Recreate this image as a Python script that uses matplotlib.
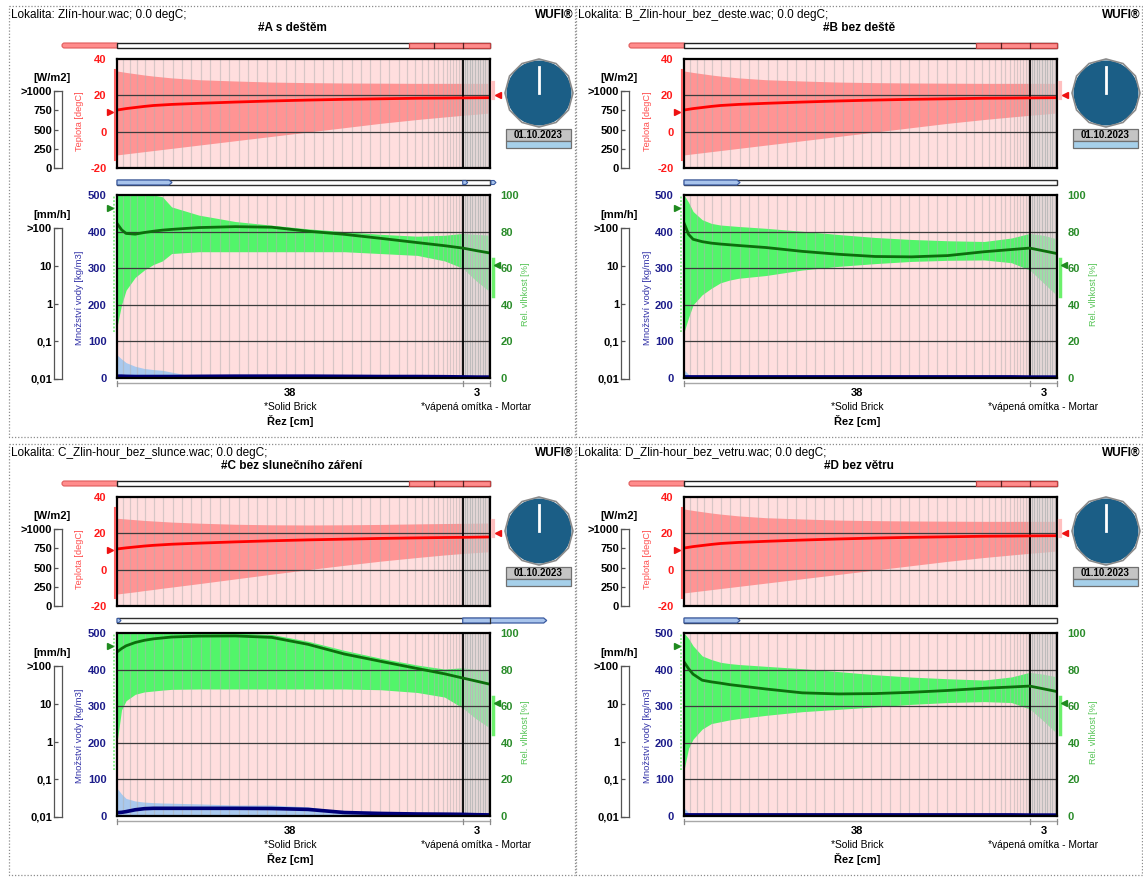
import numpy as np
import matplotlib
matplotlib.use("Agg")
import matplotlib.pyplot as plt
import matplotlib.transforms as mtransforms
from matplotlib.patches import Rectangle, Polygon, Circle, FancyBboxPatch, RegularPolygon
from matplotlib.ticker import NullLocator

plt.rcParams["font.family"] = ["Liberation Sans", "DejaVu Sans"]

# ---------------------------------------------------------------- data
# positions across the wall section [cm]
X_CM = [0, 0.5, 1, 2, 3, 4, 5, 6, 9, 13, 17, 21, 25, 29, 33, 36, 38, 39.5, 41]

LAYER_NAMES = ["*Solid Brick", "*vápená omítka - Mortar"]
LAYER_CM = [38, 3]

CLIMATE_FILES = ["Zlín-hour.wac", "B_Zlin-hour_bez_deste.wac",
                 "C_Zlin-hour_bez_slunce.wac", "D_Zlin-hour_bez_vetru.wac"]
CASE_TITLES = ["#A s deštěm", "#B bez deště", "#C bez slunečního záření", "#D bez větru"]
OUTDOOR_TEMP = "0.0 degC"
DATE_LABEL = "01.10.2023"

# temperature [degC]: current profile and min/max envelope
A_T_NOW = [11.9, 12.3, 12.7, 13.3, 13.9, 14.4, 14.7, 15.0, 15.6, 16.3, 16.9, 17.4, 17.8, 18.1, 18.4, 18.5, 18.6, 18.65, 18.7]
A_T_MAX = [33.4, 33.0, 32.6, 31.9, 31.2, 30.6, 30.1, 29.6, 28.6, 27.9, 27.3, 27.0, 26.8, 26.7, 26.6, 26.6, 26.6, 26.6, 26.6]
A_T_MIN = [-12.8, -12.5, -12.2, -11.6, -11.0, -10.4, -9.8, -9.2, -7.4, -5.0, -2.6, -0.2, 2.2, 4.6, 6.7, 8.1, 9.0, 9.6, 10.3]
B_T_NOW = [11.9, 12.3, 12.7, 13.3, 13.9, 14.4, 14.7, 15.0, 15.6, 16.3, 16.9, 17.4, 17.8, 18.1, 18.4, 18.5, 18.6, 18.65, 18.7]
B_T_MAX = [33.4, 33.0, 32.6, 31.9, 31.2, 30.6, 30.1, 29.6, 28.6, 27.9, 27.3, 27.0, 26.8, 26.7, 26.6, 26.6, 26.6, 26.6, 26.6]
B_T_MIN = [-12.8, -12.5, -12.2, -11.6, -11.0, -10.4, -9.8, -9.2, -7.4, -5.0, -2.6, -0.2, 2.2, 4.6, 6.7, 8.1, 9.0, 9.6, 10.3]
C_T_NOW = [11.4, 11.7, 12.0, 12.5, 13.0, 13.4, 13.7, 14.0, 14.6, 15.3, 15.9, 16.4, 16.8, 17.2, 17.5, 17.7, 17.8, 17.9, 18.0]
C_T_MAX = [28.3, 28.1, 27.9, 27.5, 27.1, 26.8, 26.5, 26.2, 25.6, 25.0, 24.7, 24.6, 24.7, 24.9, 25.2, 25.4, 25.5, 25.6, 25.7]
C_T_MIN = [-13.4, -13.1, -12.8, -12.2, -11.5, -10.9, -10.2, -9.6, -7.7, -5.1, -2.5, 0.0, 2.4, 4.7, 6.7, 8.1, 8.9, 9.4, 9.9]
D_T_NOW = [11.9, 12.3, 12.7, 13.3, 13.9, 14.4, 14.7, 15.0, 15.6, 16.3, 16.9, 17.4, 17.8, 18.1, 18.4, 18.5, 18.6, 18.65, 18.7]
D_T_MAX = [33.4, 33.0, 32.6, 31.9, 31.2, 30.6, 30.1, 29.6, 28.6, 27.9, 27.3, 27.0, 26.8, 26.7, 26.6, 26.6, 26.6, 26.6, 26.6]
D_T_MIN = [-12.8, -12.5, -12.2, -11.6, -11.0, -10.4, -9.8, -9.2, -7.4, -5.0, -2.6, -0.2, 2.2, 4.6, 6.7, 8.1, 9.0, 9.6, 10.3]

# relative humidity [%]: current profile and min/max envelope
A_RH_NOW = [84.5, 81.0, 79.0, 78.6, 79.5, 80.2, 80.8, 81.2, 82.2, 82.7, 82.4, 80.2, 78.5, 76.3, 74.0, 72.3, 71.0, 69.6, 68.3]
A_RH_MAX = [100, 100, 100, 100, 100, 100, 99, 93.5, 89, 85.5, 83.5, 81.5, 80, 78.5, 77.5, 78, 79, 78.5, 78]
A_RH_MIN = [28, 40, 48, 55, 59, 62, 64, 68, 69, 69, 69, 69, 69, 68, 67, 64, 60, 53, 47]
B_RH_NOW = [84.7, 78.5, 75.8, 74.5, 73.7, 73.2, 72.8, 72.4, 71.3, 69.2, 67.6, 66.4, 66.2, 66.9, 69.0, 70.2, 71.0, 69.5, 68.0]
B_RH_MAX = [100, 96, 91, 86.5, 84.5, 83.6, 83.2, 82.8, 81.8, 80.2, 78.4, 76.8, 75.7, 75.0, 74.6, 76.5, 79, 78, 76]
B_RH_MIN = [25, 33, 40, 45.5, 49, 52, 53.5, 54.5, 56, 59, 61, 62.5, 63.7, 64.3, 64.5, 63, 59, 52, 45]
C_RH_NOW = [89.6, 91.5, 93, 94.8, 96, 96.8, 97.3, 97.8, 98.3, 98.4, 97.6, 93.8, 88.5, 84.5, 80.6, 77.7, 75.4, 73.7, 72]
C_RH_MAX = [100, 100, 100, 100, 100, 100, 100, 100, 100, 100, 99.2, 95.5, 90.5, 86.2, 82.5, 80.3, 81, 80, 79]
C_RH_MIN = [40, 58, 63, 66.5, 67.8, 68.3, 68.8, 69.2, 69.4, 69.4, 69.4, 69.4, 69.4, 69, 67.5, 65, 59, 53, 48]
D_RH_NOW = [84.2, 80.5, 77.5, 74.2, 73.3, 72.6, 71.8, 71.2, 69.4, 67.3, 66.7, 66.9, 67.6, 68.6, 69.8, 70.5, 71.0, 69.5, 68.0]
D_RH_MAX = [100, 97, 93, 87.5, 85.5, 84, 83.3, 82.8, 81.8, 80.5, 78.9, 77.2, 75.9, 75.0, 74.3, 76, 78.5, 77.5, 76]
D_RH_MIN = [25, 37, 42, 47.5, 50.5, 51.5, 52.5, 53.2, 55, 57, 58.3, 59.6, 61, 62, 62.5, 62, 58.5, 52, 45]

# water content [kg/m3]: current profile and maximum envelope
A_W_NOW = [5, 5, 4.5, 4, 4, 4, 4, 4, 4.5, 5, 5, 5, 4.5, 4, 4, 3.5, 3, 2.5, 2.5]
A_W_MAX = [63, 52, 42, 32, 26, 23, 21, 16, 2, 2, 2, 2, 2, 2, 2, 2, 2, 2, 2]
B_W_NOW = [3, 3, 3, 3, 3, 3, 3, 3, 3, 3, 3, 3, 3, 3, 3, 3, 2.5, 2.5, 2.5]
B_W_MAX = [22, 10, 4, 2, 2, 2, 2, 2, 2, 2, 2, 2, 2, 2, 2, 2, 2, 2, 2]
C_W_NOW = [9, 10, 12, 17, 20, 21, 21, 21, 21, 21, 20.5, 18, 9.5, 7, 5.5, 5, 4.5, 3.5, 3]
C_W_MAX = [76, 60, 48, 41, 38, 36.5, 35.5, 35, 33, 30, 30, 25, 12, 8.5, 7, 6, 5, 4, 4]
D_W_NOW = [3, 3, 3, 3, 3, 3, 3, 3, 3, 3, 3, 3, 3, 3, 3, 3, 2.5, 2.5, 2.5]
D_W_MAX = [22, 9, 4, 2, 2, 2, 2, 2, 2, 2, 2, 2, 2, 2, 2, 2, 2, 2, 2]

# boundary conditions (outdoor / indoor)
EXT_T_NOW, EXT_T_RANGE = 10.8, (-15.6, 34.0)
INT_T_NOW, INT_T_RANGE = 20.0, (18.5, 27.0)
EXT_RH_NOW, EXT_RH_RANGE = 93, (25, 100)
INT_RH_NOW, INT_RH_RANGE = 62, (45, 65)

TEMP_TICKS = [-20, 0, 20, 40]
WATER_TICKS = [0, 100, 200, 300, 400, 500]
RH_TICKS = [0, 20, 40, 60, 80, 100]
RAD_TICKS = [0, 250, 500, 750, 1000]
RAD_LABELS = ["0", "250", "500", "750", ">1000"]
RAIN_TICKS = [0.01, 0.1, 1, 10, 100]
RAIN_LABELS = ["0,01", "0,1", "1", "10", ">100"]

PANEL_DATA = [
    (A_T_NOW, A_T_MAX, A_T_MIN, A_RH_NOW, A_RH_MAX, A_RH_MIN, A_W_NOW, A_W_MAX),
    (B_T_NOW, B_T_MAX, B_T_MIN, B_RH_NOW, B_RH_MAX, B_RH_MIN, B_W_NOW, B_W_MAX),
    (C_T_NOW, C_T_MAX, C_T_MIN, C_RH_NOW, C_RH_MAX, C_RH_MIN, C_W_NOW, C_W_MAX),
    (D_T_NOW, D_T_MAX, D_T_MIN, D_RH_NOW, D_RH_MAX, D_RH_MIN, D_W_NOW, D_W_MAX),
]

# ---------------------------------------------------------------- layout
W, H = 1143, 877
PANEL_OFFSETS = [(0, 0), (567, 0), (0, 438), (567, 438)]
# flux indicator below the temperature chart: which side and length in px
RAIN_BARS = [("left", 55), ("left", 56), ("right", 84), ("left", 56)]

BRICK = LAYER_CM[0]
TOTAL = sum(LAYER_CM)
PX0, PX1 = 117, 490

BG_PINK = "#ffdede"
BAND_RED = "#ff9494"
BAND_GREEN = "#52f56a"
GRID_DARK = "#3c3c3c"
NAVY = "#1c1c8a"
RH_GREEN = "#2a8c2a"
TEMP_RED = "#ff1a1a"

fig = plt.figure(figsize=(W / 100, H / 100), dpi=100)
bg = fig.add_axes([0, 0, 1, 1])
bg.set_xlim(0, W)
bg.set_ylim(H, 0)
bg.axis("off")


def add_px_axes(x0, y0, x1, y1):
    return fig.add_axes([x0 / W, 1 - y1 / H, (x1 - x0) / W, (y1 - y0) / H])


def graded_nodes(length, w_left, w_right, g_left, g_right, w_max):
    """Finite-volume grid: fine at both layer faces, coarser inside."""
    lw, rw = w_left, w_right
    left, right = [], []
    while sum(left) + sum(right) < length:
        if lw <= rw:
            left.append(lw)
            lw = min(lw * g_left, w_max)
        else:
            right.append(rw)
            rw = min(rw * g_right, w_max)
    widths = np.array(left + right[::-1])
    widths *= length / widths.sum()
    return np.concatenate([[0], np.cumsum(widths)])


MESH_BRICK = graded_nodes(BRICK, 0.7, 0.22, 1.08, 1.12, 1.05)
MESH_PLASTER = graded_nodes(LAYER_CM[1], 0.25, 0.25, 1.1, 1.1, 0.3) + BRICK


def draw_mesh(ax, ymin, ymax):
    for xn in MESH_BRICK[1:-1]:
        ax.plot([xn, xn], [ymin, ymax], color="#b0b0b0", lw=0.9, alpha=0.5, zorder=2)
    ax.add_patch(Rectangle((BRICK, ymin), LAYER_CM[1], ymax - ymin, color="#d0d0d0",
                           alpha=0.6, lw=0, zorder=3))
    for xn in MESH_PLASTER[1:-1]:
        ax.plot([xn, xn], [ymin, ymax], color="#b8b8b8", lw=0.6, zorder=3.5)
    ax.axvline(BRICK, color="black", lw=1.3, zorder=5)


def style_spines(ax):
    for sp in ax.spines.values():
        sp.set_linewidth(1.6)
        sp.set_color("black")
        sp.set_zorder(7)


def bold_labels(labels):
    for lbl in labels:
        lbl.set_fontweight("bold")


def side_scale(x0, y0, x1, y1, ticks, labels, log):
    s = add_px_axes(x0, y0, x1, y1)
    if log:
        s.set_yscale("log")
        s.set_ylim(0.01, 100)
    else:
        s.set_ylim(0, 1000)
    s.set_xticks([])
    s.set_yticks(ticks)
    s.set_yticklabels(labels)
    s.yaxis.set_minor_locator(NullLocator())
    s.tick_params(axis="y", direction="in", length=3, width=0.9, color="#555555",
                  pad=1.5, labelsize=8)
    bold_labels(s.get_yticklabels())
    for sp in s.spines.values():
        sp.set_color("#555555")
        sp.set_linewidth(0.9)
    return s


def panel(i, dx, dy):
    t_now, t_max, t_min, rh_now, rh_max, rh_min, w_now, w_max = PANEL_DATA[i]

    def P(x, y):
        return x + dx, y + dy

    def xpx(cm):
        return dx + PX0 + cm * (PX1 - PX0) / TOTAL

    # frame and headings
    bg.add_patch(Rectangle(P(9, 6), 566, 431, fill=False, ec="#8c8c8c", lw=0.9,
                           ls=(0, (1, 1.5))))
    bg.text(*P(11, 15), f"Lokalita: {CLIMATE_FILES[i]}; {OUTDOOR_TEMP};",
            fontsize=8.5, va="center", ha="left")
    bg.text(*P(573, 15), "WUFI®", fontsize=8.5, fontweight="bold", va="center", ha="right")
    bg.text(*P(292, 28), CASE_TITLES[i], fontsize=8.5, fontweight="bold",
            va="center", ha="center")

    # heat flux bar above the temperature chart
    bg.add_patch(FancyBboxPatch(P(62, 43), 57, 5, boxstyle="round,pad=0,rounding_size=2.5",
                                fc="#ff8c8c", ec="#e05a5a", lw=0.8))
    bg.add_patch(Rectangle(P(PX0, 43), PX1 - PX0, 5, fc="white", ec="#202020", lw=1))
    bg.add_patch(Rectangle(P(409, 43), PX1 - 409, 5, fc="#ff8c8c", ec="#c04040", lw=0.9))
    for xb in (434, xpx(BRICK) - dx):
        bg.plot([xb + dx, xb + dx], [dy + 43, dy + 48], color="#502020", lw=0.9)

    # rain bar above the moisture chart
    bg.add_patch(Rectangle(P(PX0, 180), PX1 - PX0, 5, fc="white", ec="#303030", lw=1))
    side, length = RAIN_BARS[i]
    blue_fc, blue_ec = "#a8c4ec", "#3a5aa0"
    if side == "left":
        x0, x1 = PX0, PX0 + length
        bg.add_patch(Polygon([P(x0, 180), P(x1 - 3, 180), P(x1, 182.5), P(x1 - 3, 185),
                              P(x0, 185)], fc=blue_fc, ec=blue_ec, lw=0.9))
        if i == 0:
            xb = xpx(BRICK) - dx
            for xs in (xb, PX1 + 1):
                bg.add_patch(Polygon([P(xs, 180.5), P(xs + 3, 180.5), P(xs + 5, 182.5),
                                      P(xs + 3, 184.5), P(xs, 184.5)],
                                     fc=blue_fc, ec=blue_ec, lw=0.8))
    else:
        x0 = xpx(BRICK) - dx
        x1 = x0 + length
        bg.add_patch(Polygon([P(x0, 180), P(x1 - 3, 180), P(x1, 182.5), P(x1 - 3, 185),
                              P(x0, 185)], fc=blue_fc, ec=blue_ec, lw=0.9))
        bg.plot([PX1 + dx, PX1 + dx], [dy + 180, dy + 185], color="#303030", lw=0.9)
        bg.add_patch(Polygon([P(PX0, 180.5), P(PX0 + 2, 180.5), P(PX0 + 4, 182.5),
                              P(PX0 + 2, 184.5), P(PX0, 184.5)], fc=blue_fc, ec=blue_ec, lw=0.8))

    # side scales: radiation and rain
    bg.text(*P(52, 78), "[W/m2]", fontsize=8, fontweight="bold", ha="center", va="center")
    side_scale(dx + 54, dy + 91, dx + 62, dy + 168, RAD_TICKS, RAD_LABELS, False)
    bg.text(*P(52, 215), "[mm/h]", fontsize=8, fontweight="bold", ha="center", va="center")
    side_scale(dx + 54, dy + 228, dx + 62, dy + 379, RAIN_TICKS, RAIN_LABELS, True)

    # ---------------- temperature chart
    ax = add_px_axes(dx + PX0, dy + 59, dx + PX1, dy + 168)
    ax.set_facecolor(BG_PINK)
    ax.fill_between(X_CM, t_min, t_max, color=BAND_RED, lw=0, zorder=1)
    draw_mesh(ax, -20, 40)
    for yv in TEMP_TICKS[1:-1]:
        ax.axhline(yv, color=GRID_DARK, lw=0.9, zorder=4)
    ax.plot(X_CM, t_now, color="#ff0000", lw=2, zorder=6)
    ax.set_xlim(0, TOTAL)
    ax.set_ylim(-20, 40)
    ax.set_xticks([])
    ax.set_yticks(TEMP_TICKS)
    ax.set_yticklabels([str(v) for v in TEMP_TICKS])
    ax.tick_params(axis="y", length=0, pad=7.5, labelsize=8, labelcolor=TEMP_RED)
    bold_labels(ax.get_yticklabels())
    style_spines(ax)
    tr = mtransforms.blended_transform_factory(ax.transAxes, ax.transData)
    ax.plot([-0.006, -0.006], EXT_T_RANGE, transform=tr, clip_on=False,
            color="#ff6060", lw=1.5, zorder=8)
    ax.plot([-0.02], [EXT_T_NOW], transform=tr, clip_on=False, marker=">",
            color="#ee1111", ms=5, zorder=8)
    ax.plot([1.008, 1.008], INT_T_RANGE, transform=tr, clip_on=False,
            color="#ffc0c0", lw=3, zorder=8)
    ax.plot([1.022], [INT_T_NOW], transform=tr, clip_on=False, marker="<",
            color="#ee1111", ms=5, zorder=8)
    bg.text(*P(80, 121), "Teplota [degC]", rotation=90, fontsize=6.6, color="#ff4d4d",
            ha="center", va="center")

    # clock and date
    cx, cy = P(539, 93)
    bg.add_patch(Circle((cx, cy), 32.5, fc="#1b5e86", ec="none"))
    bg.add_patch(RegularPolygon((cx, cy), numVertices=12, radius=34, fill=False,
                                ec="#8a8a8a", lw=1.2))
    bg.plot([cx, cx], [cy, cy - 26], color="white", lw=2)
    bg.add_patch(Rectangle(P(506, 129), 65, 12, fc="#c4c4c4", ec="#707070", lw=0.9))
    bg.text(*P(538.5, 135), DATE_LABEL, fontsize=7, fontweight="bold", ha="center", va="center")
    bg.add_patch(Rectangle(P(506, 141), 65, 7, fc="#a6d0ea", ec="#707070", lw=0.9))

    # ---------------- moisture chart
    axm = add_px_axes(dx + PX0, dy + 195, dx + PX1, dy + 378)
    rh = axm.twinx()
    axm.set_facecolor(BG_PINK)
    rh.set_ylim(0, 100)
    rtd = rh.transData
    axm.fill_between(X_CM, rh_min, rh_max, color=BAND_GREEN, lw=0, zorder=1, transform=rtd)
    axm.fill_between(X_CM, 0, w_max, color="#a9c9ee", lw=0, zorder=1.5)
    draw_mesh(axm, 0, 500)
    for yv in WATER_TICKS[1:-1]:
        axm.axhline(yv, color=GRID_DARK, lw=0.9, zorder=4)
    axm.plot(X_CM, rh_now, color="#0c6e0c", lw=2, zorder=6, transform=rtd)
    axm.plot(X_CM, w_now, color="#000078", lw=2.6, zorder=6)
    axm.set_xlim(0, TOTAL)
    axm.set_ylim(0, 500)
    axm.set_xticks([])
    axm.set_yticks(WATER_TICKS)
    axm.set_yticklabels([str(v) for v in WATER_TICKS])
    axm.tick_params(axis="y", length=0, pad=7.5, labelsize=8, labelcolor=NAVY)
    bold_labels(axm.get_yticklabels())
    style_spines(axm)
    rh.set_yticks(RH_TICKS)
    rh.set_yticklabels([str(v) for v in RH_TICKS])
    rh.tick_params(axis="y", length=0, pad=7.5, labelsize=8, labelcolor=RH_GREEN)
    bold_labels(rh.get_yticklabels())
    for sp in rh.spines.values():
        sp.set_visible(False)
    trh = mtransforms.blended_transform_factory(axm.transAxes, rtd)
    axm.plot([-0.007, -0.007], EXT_RH_RANGE, transform=trh, clip_on=False,
             color="#7ef07e", lw=1.3, ls=(0, (1, 1)), zorder=8)
    axm.plot([-0.02], [EXT_RH_NOW], transform=trh, clip_on=False, marker=">",
             color="#1f8a1f", ms=5, zorder=8)
    axm.plot([1.008, 1.008], INT_RH_RANGE, transform=trh, clip_on=False,
             color="#6cf06c", lw=2.5, zorder=8)
    axm.plot([1.02], [INT_RH_NOW], transform=trh, clip_on=False, marker="<",
             color="#1f8a1f", ms=5, zorder=8)
    bg.text(*P(80, 298), "Množství vody [kg/m3]", rotation=90, fontsize=6.8, color="#3434a8",
            ha="center", va="center")
    bg.text(*P(526, 294), "Rel. vlhkost [%]", rotation=90, fontsize=6.6, color="#55c455",
            ha="center", va="center")

    # cross-section axis with layer labels
    bounds = np.concatenate([[0], np.cumsum(LAYER_CM)])
    bg.plot([xpx(0), xpx(TOTAL)], [dy + 383, dy + 383], color="#a8a8a8", lw=1)
    for b in bounds:
        bg.plot([xpx(b), xpx(b)], [dy + 381, dy + 386], color="#8a8a8a", lw=0.9)
    for k, name in enumerate(LAYER_NAMES):
        xc = xpx((bounds[k] + bounds[k + 1]) / 2)
        bg.text(xc, dy + 393, f"{LAYER_CM[k]}", fontsize=8, fontweight="bold",
                ha="center", va="center")
        bg.text(xc, dy + 407, name, fontsize=7.4, ha="center", va="center")
    bg.text(xpx(BRICK / 2), dy + 421, "Řez [cm]", fontsize=8, fontweight="bold",
            ha="center", va="center")


for i, (dx, dy) in enumerate(PANEL_OFFSETS):
    panel(i, dx, dy)

fig.savefig("out.png", dpi=100)
